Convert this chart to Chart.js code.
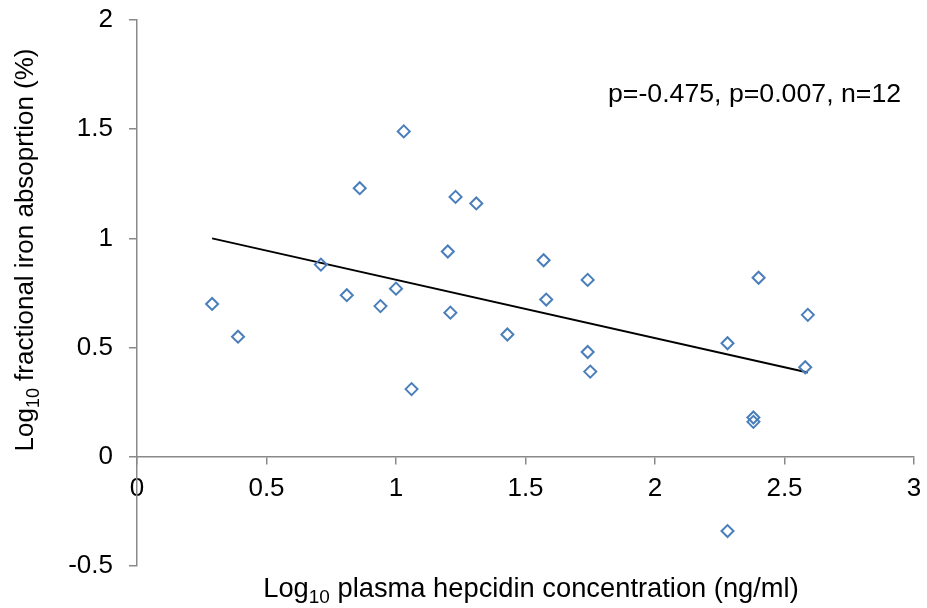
<!DOCTYPE html>
<html>
<head>
<meta charset="utf-8">
<script src="https://cdn.jsdelivr.net/npm/chart.js@4/dist/chart.umd.min.js"></script>
<style>
  body { margin: 0; background: #fff; }
  #wrap { width: 927px; height: 608px; }
</style>
</head>
<body>
<div id="wrap"><canvas id="grafico"></canvas></div>
<script>
// Punti (log10 epcidina, log10 assorbimento)
const hepcidin = [0.29, 0.39, 0.71, 0.81, 0.86, 0.94, 1.0, 1.03, 1.06, 1.2, 1.21, 1.23, 1.31,
  1.43, 1.57, 1.58, 1.74, 1.74, 1.75, 2.28, 2.28, 2.38, 2.38, 2.4, 2.59, 2.58];
const absorption = [0.70, 0.55, 0.88, 0.74, 1.23, 0.69, 0.77, 1.49, 0.31, 0.94, 0.66, 1.19, 1.16,
  0.56, 0.90, 0.72, 0.81, 0.48, 0.39, 0.52, -0.34, 0.18, 0.16, 0.82, 0.65, 0.41];

// Retta di regressione
const trendX = [0.29, 2.59];
const trendY = [1.0, 0.386];

const xTicks = [0, 0.5, 1, 1.5, 2, 2.5, 3];
const yTicks = [-0.5, 0, 0.5, 1, 1.5, 2];
const note = 'p=-0.475, p=0.007, n=12';

const FONT = '"Liberation Sans", Arial, sans-serif';
const GREY = '#898989';

const punti = hepcidin.map((x, i) => ({ x: x, y: absorption[i] }));
const retta = trendX.map((x, i) => ({ x: x, y: trendY[i] }));

// Titoli degli assi con pedice e nota
const titoli = {
  id: 'titoli',
  afterDraw(chart) {
    const ctx = chart.ctx;

    function pedice(size, pre, sub, post) {
      const big = size + 'px ' + FONT;
      const small = Math.round(size * 0.7) + 'px ' + FONT;
      ctx.font = big;
      const w1 = ctx.measureText(pre).width;
      const w3 = ctx.measureText(post).width;
      ctx.font = small;
      const w2 = ctx.measureText(sub).width;
      return { w: w1 + w2 + w3, draw(x, y) {
        ctx.textAlign = 'left';
        ctx.textBaseline = 'alphabetic';
        ctx.font = big;
        ctx.fillText(pre, x, y);
        ctx.font = small;
        ctx.fillText(sub, x + w1, y + 6);
        ctx.font = big;
        ctx.fillText(post, x + w1 + w2, y);
      } };
    }

    ctx.save();
    ctx.fillStyle = '#000';

    const tx = pedice(27.3, 'Log', '10', ' plasma hepcidin concentration (ng/ml)');
    tx.draw(531 - tx.w / 2, 597);

    const ty = pedice(26, 'Log', '10', ' fractional iron absoprtion (%)');
    ctx.save();
    ctx.translate(33, 250);
    ctx.rotate(-Math.PI / 2);
    ty.draw(-ty.w / 2, 0);
    ctx.restore();

    ctx.font = '26.7px ' + FONT;
    ctx.textAlign = 'left';
    ctx.textBaseline = 'alphabetic';
    ctx.fillText(note, 608, 102);
    ctx.restore();
  }
};

new Chart(document.getElementById('grafico').getContext('2d'), {
  type: 'scatter',
  data: {
    datasets: [{
      label: 'Dati',
      data: punti,
      pointStyle: 'rectRot',
      pointRadius: 6,
      pointHoverRadius: 6,
      pointBorderWidth: 2,
      pointBorderColor: '#4a7ebb',
      pointBackgroundColor: 'rgba(255,255,255,0)'
    }, {
      label: 'Trend',
      type: 'line',
      data: retta,
      borderColor: '#000',
      borderWidth: 1.8,
      pointRadius: 0,
      fill: false
    }]
  },
  options: {
    responsive: true,
    maintainAspectRatio: false,
    animation: false,
    layout: { padding: { top: 20, right: 13, bottom: 42, left: 0 } },
    plugins: {
      legend: { display: false },
      tooltip: { enabled: false }
    },
    scales: {
      x: {
        type: 'linear',
        position: { y: 0 },
        min: 0,
        max: 3,
        afterBuildTicks: s => { s.ticks = xTicks.map(v => ({ value: v })); },
        afterFit: s => { s.paddingLeft = 0; s.paddingRight = 0; },
        ticks: { color: '#000', font: { family: FONT, size: 26 }, padding: 9, maxRotation: 0,
          callback: v => String(v) },
        grid: { drawOnChartArea: false, drawTicks: true, tickLength: 7, color: GREY, lineWidth: 1.5 },
        border: { color: GREY, width: 1.5 }
      },
      y: {
        type: 'linear',
        position: 'left',
        min: -0.5,
        max: 2,
        afterBuildTicks: s => { s.ticks = yTicks.map(v => ({ value: v })); },
        afterFit: s => { s.width = 137; s.paddingTop = 0; s.paddingBottom = 0; },
        ticks: { color: '#000', font: { family: FONT, size: 26 }, padding: 16,
          callback: v => String(v) },
        grid: { drawOnChartArea: false, drawTicks: true, tickLength: 8, color: GREY, lineWidth: 1.5 },
        border: { color: GREY, width: 1.5 }
      }
    }
  },
  plugins: [titoli]
});
</script>
</body>
</html>
